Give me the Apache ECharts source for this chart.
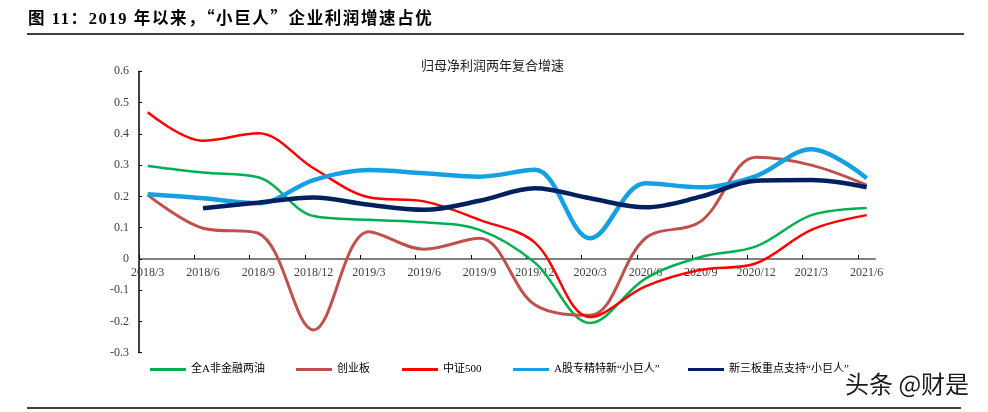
<!DOCTYPE html>
<html>
<head>
<meta charset="utf-8">
<script src="https://cdn.jsdelivr.net/npm/echarts@6/dist/echarts.min.js"></script>
<style>
  html, body { margin: 0; padding: 0; background: #fff; }
  #wrap { position: relative; width: 988px; height: 412px; }
  #chart { position: absolute; left: 0; top: 0; width: 988px; height: 412px; }
  #heading {
    position: absolute; left: 28px; top: 5px; z-index: 2;
    font: bold 16.5px "Liberation Serif", "Noto Sans CJK SC", serif;
    letter-spacing: 1.6px; color: #000; white-space: nowrap;
  }
  #heading .q { font-family: "Noto Sans CJK SC", sans-serif; }
</style>
</head>
<body>
<div id="wrap">
  <div id="chart"></div>
  <div id="heading">图 11：2019 年以来，<span class="q">“</span>小巨人<span class="q">”</span>企业利润增速占优</div>
</div>
<script>
// quarters
const categories = ['2018/3', '2018/6', '2018/9', '2018/12', '2019/3', '2019/6', '2019/9',
  '2019/12', '2020/3', '2020/6', '2020/9', '2020/12', '2021/3', '2021/6']

// 归母净利润两年复合增速
const allA = [0.297, 0.276, 0.261, 0.137, 0.125, 0.117, 0.093, -0.012, -0.205, -0.063, 0.006, 0.040, 0.140, 0.163]
const chinext = [0.205, 0.098, 0.082, -0.227, 0.087, 0.031, 0.066, -0.147, -0.180, 0.066, 0.120, 0.325, 0.300, 0.236]
const csi500 = [0.469, 0.378, 0.402, 0.290, 0.197, 0.184, 0.125, 0.052, -0.186, -0.088, -0.035, -0.014, 0.093, 0.140]
const aShareGiants = [0.207, 0.194, 0.178, 0.252, 0.284, 0.274, 0.263, 0.285, 0.066, 0.242, 0.229, 0.265, 0.351, 0.258]
const neeqGiants = [null, 0.162, 0.180, 0.196, 0.173, 0.157, 0.186, 0.226, 0.194, 0.165, 0.199, 0.250, 0.252, 0.229]

const yTicks = [-0.3, -0.2, -0.1, 0, 0.1, 0.2, 0.3, 0.4, 0.5, 0.6]

const serif = '"Liberation Serif", "Times New Roman", serif'
const mixed = '"Liberation Serif", "Noto Sans CJK SC", sans-serif'

// x axis ticks sit a bit left of each point (Excel date axis look)
const xMin = -0.157
const xMax = 13.15
const xTicks = categories.map((c, i) => i + xMin)

function pts(arr) {
  return arr.map((v, i) => [i, v == null ? '-' : v])
}

const seriesDefs = [
  { name: '全A非金融两油', data: allA, color: '#00B050', width: 2.5 },
  { name: '创业板', data: chinext, color: '#C0504D', width: 3 },
  { name: '中证500', data: csi500, color: '#FF0000', width: 2.5 },
  { name: 'A股专精特新“小巨人”', data: aShareGiants, color: '#14A0E3', width: 4.5 },
  { name: '新三板重点支持“小巨人”', data: neeqGiants, color: '#002060', width: 4.5 },
]
const legendLeft = [150, 296, 402, 513, 688]

const chart = echarts.init(document.getElementById('chart'))
chart.setOption({
  animation: false,
  title: {
    text: '归母净利润两年复合增速',
    left: 416, top: 54,
    textStyle: { fontSize: 13, fontWeight: 'normal', color: '#222', fontFamily: '"Noto Sans CJK SC", sans-serif' },
  },
  legend: seriesDefs.map((s, i) => ({
    data: [s.name],
    left: legendLeft[i], top: 364, padding: 0,
    icon: 'rect', itemWidth: 36, itemHeight: 3, itemGap: 0,
    textStyle: { fontSize: 11, color: '#000', fontFamily: mixed },
  })),
  grid: [
    // data area: full -0.3 .. 0.6 range
    { left: 139, right: 113, top: 71.3, bottom: 59.3 },
    // upper half only, so its bottom edge is the zero line
    { left: 139, right: 113, top: 71.3, bottom: 153 },
  ],
  xAxis: [
    {
      type: 'value', gridIndex: 0, min: xMin, max: xMax,
      axisLine: { show: false }, axisTick: { show: false }, axisLabel: { show: false },
      splitLine: { show: false },
    },
    {
      type: 'value', gridIndex: 1, min: xMin, max: xMax,
      axisLine: { onZero: false, lineStyle: { color: '#808080', width: 2 } },
      axisTick: { customValues: xTicks, inside: true, length: 4, lineStyle: { color: '#000', width: 1 } },
      axisLabel: {
        customValues: categories.map((c, i) => i),
        formatter: v => categories[Math.round(v)],
        margin: 8, fontSize: 12, color: '#404040', fontFamily: serif,
      },
      splitLine: { show: false },
    },
  ],
  yAxis: [
    {
      type: 'value', gridIndex: 0, min: -0.3, max: 0.6,
      axisLine: { show: true, onZero: false, lineStyle: { color: '#000', width: 1.5 } },
      axisTick: { show: true, customValues: yTicks, inside: true, length: 3, lineStyle: { color: '#000' } },
      axisLabel: {
        customValues: yTicks,
        formatter: v => (Math.abs(v) < 1e-9 ? '0' : v.toFixed(1)),
        margin: 10, fontSize: 12, color: '#404040', fontFamily: serif,
      },
      splitLine: { show: false },
    },
    {
      type: 'value', gridIndex: 1, min: 0, max: 0.6, show: false,
    },
  ],
  graphic: [
    { type: 'line', shape: { x1: 27, y1: 34, x2: 964, y2: 34 }, style: { stroke: '#000', lineWidth: 1.5 } },
    { type: 'line', shape: { x1: 27, y1: 408, x2: 961, y2: 408 }, style: { stroke: '#000', lineWidth: 1.5 } },
    {
      type: 'text', left: 845, top: 372, z: 10,
      style: { text: '头条 @财是', fontSize: 24, fill: '#1a1a1a', fontFamily: '"Noto Sans CJK SC", sans-serif' },
    },
  ],
  series: seriesDefs.map(s => ({
    name: s.name,
    type: 'line',
    xAxisIndex: 0, yAxisIndex: 0,
    data: pts(s.data),
    smooth: 0.35,
    symbol: 'none',
    color: s.color,
    lineStyle: { color: s.color, width: s.width },
  })),
})
</script>
</body>
</html>
